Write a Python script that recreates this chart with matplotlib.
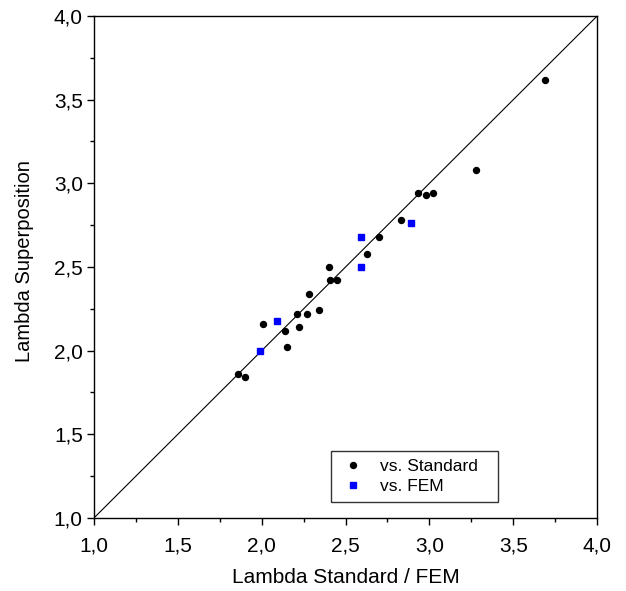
import matplotlib
matplotlib.use("Agg")
import matplotlib.pyplot as plt
from matplotlib.ticker import MultipleLocator, FuncFormatter

plt.rcParams['font.family'] = ['Liberation Sans', 'DejaVu Sans']

std_x = [2.93, 2.98, 3.02, 2.83, 2.70, 2.63, 2.40, 2.41, 2.45, 2.28, 2.34,
         2.21, 2.27, 2.01, 2.14, 2.22, 2.15, 1.86, 1.90, 3.69, 3.28]
std_y = [2.94, 2.93, 2.94, 2.78, 2.68, 2.58, 2.50, 2.42, 2.42, 2.34, 2.24,
         2.22, 2.22, 2.16, 2.12, 2.14, 2.02, 1.86, 1.84, 3.62, 3.08]
fem_x = [2.89, 2.59, 2.59, 2.09, 1.99]
fem_y = [2.76, 2.68, 2.50, 2.18, 2.00]
diag = [1.0, 4.0]

fig = plt.figure(figsize=(6.26, 5.91), dpi=100)
ax = fig.add_axes([0.150, 0.1235, 0.804, 0.8495])

ax.plot(diag, diag, color='black', lw=0.8)
ax.plot(std_x, std_y, 'o', color='black', ms=4.3, ls='none', label='vs. Standard')
ax.plot(fem_x, fem_y, 's', color='#0000ff', ms=3.8, ls='none', label='vs. FEM')

ax.set_xlim(1.0, 4.0)
ax.set_ylim(1.0, 4.0)
fmt = FuncFormatter(lambda v, p: f"{v:.1f}".replace('.', ','))
for axis in (ax.xaxis, ax.yaxis):
    axis.set_major_locator(MultipleLocator(0.5))
    axis.set_minor_locator(MultipleLocator(0.25))
    axis.set_major_formatter(fmt)
ax.tick_params(which='major', direction='out', length=5, width=1, labelsize=15,
               top=False, right=False)
ax.tick_params(axis='x', which='major', pad=8)
ax.tick_params(axis='y', which='major', pad=3)
ax.tick_params(which='minor', direction='out', length=3, width=1, top=False, right=False)
for s in ax.spines.values():
    s.set_linewidth(1.0)

ax.set_xlabel('Lambda Standard / FEM', fontsize=15, labelpad=9)
ax.set_ylabel('Lambda Superposition', fontsize=14.5)
ax.yaxis.set_label_coords(-0.12, 0.512)

leg = ax.legend(loc='lower left', bbox_to_anchor=(0.471, 0.032, 0.332, 0.1), mode='expand',
                borderaxespad=0.0,
                fontsize=12.5, frameon=True, fancybox=False, edgecolor='black',
                handlelength=1.6, handletextpad=0.75, borderpad=0.45, labelspacing=0.3)
leg.get_frame().set_linewidth(1.0)

fig.savefig('out.png', dpi=100)
